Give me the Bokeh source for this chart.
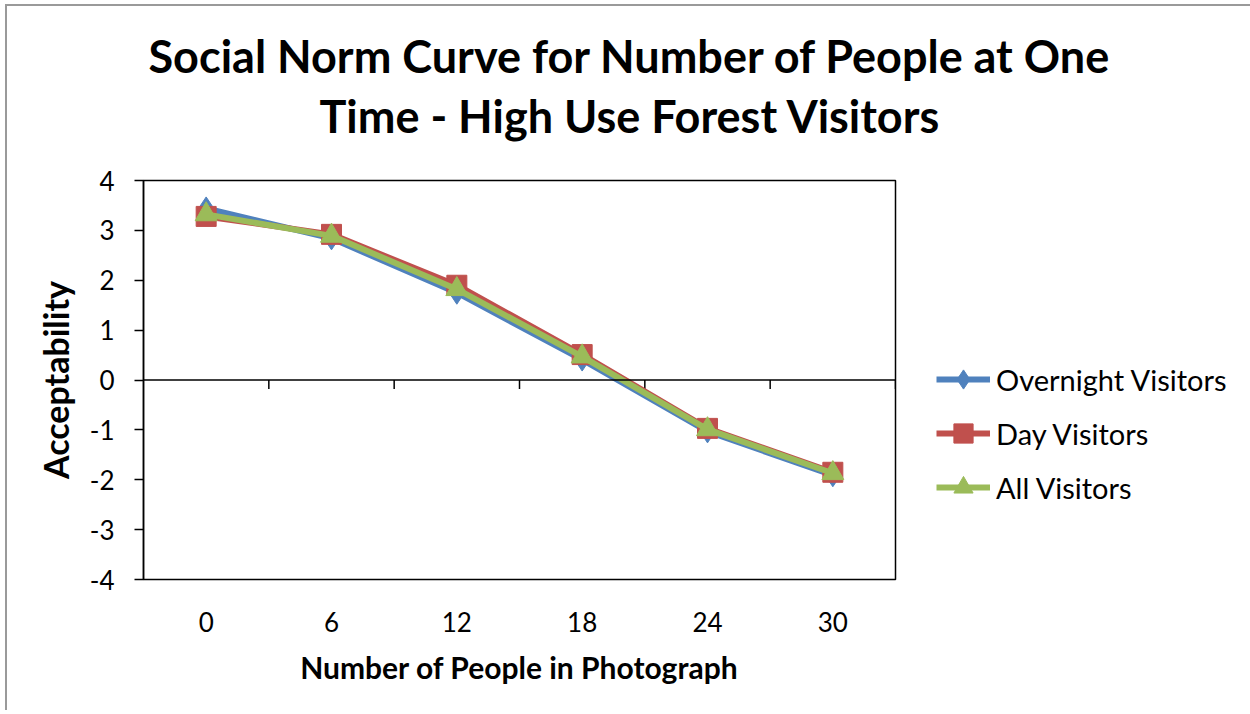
from bokeh.plotting import figure
from bokeh.models import (Legend, LegendItem, Span, Title, FixedTicker, Range1d)
from bokeh.embed import file_html
from bokeh.resources import INLINE

categories = ["0", "6", "12", "18", "24", "30"]
overnight = [3.44, 2.84, 1.75, 0.41, -1.03, -1.91]
day = [3.28, 2.92, 1.90, 0.51, -0.97, -1.85]
all_visitors = [3.32, 2.89, 1.82, 0.47, -0.99, -1.87]
y_ticks = [-4, -3, -2, -1, 0, 1, 2, 3, 4]
series_names = ["Overnight Visitors", "Day Visitors", "All Visitors"]
title_lines = ["Social Norm Curve for Number of People at One",
               "Time - High Use Forest Visitors"]

FONT = "Lato"
W, H = 1240, 704
FL, FT, FW, FH = 136, 174, 752, 399

p = figure(width=W, height=H, output_backend="svg", toolbar_location=None,
           x_range=Range1d(0, len(categories)), y_range=Range1d(-4, 4),
           min_border_left=FL, min_border_top=FT,
           min_border_right=W - FL - FW, min_border_bottom=H - FT - FH,
           frame_width=FW, frame_height=FH)
p.xgrid.visible = False
p.ygrid.visible = False
p.outline_line_color = "black"
p.outline_line_width = 1.5
p.background_fill_color = "white"
p.border_fill_color = "white"
p.styles = {"margin-left": "5px", "margin-top": "4px",
            "border-top": "2px solid #9a9a9a", "border-left": "2px solid #9a9a9a"}

xs = [i + 0.5 for i in range(len(categories))]

# x axis (labels at bottom)
xa = p.xaxis[0]
xa.ticker = FixedTicker(ticks=xs)
xa.major_label_overrides = {x: c for x, c in zip(xs, categories)}
xa.axis_line_color = None
xa.major_tick_line_color = None
xa.minor_tick_line_color = None
xa.major_label_standoff = 26
xa.major_label_text_font = FONT
xa.major_label_text_font_size = "26px"
xa.major_label_text_color = "black"
xa.axis_label = "Number of People in Photograph"
xa.axis_label_text_font = FONT
xa.axis_label_text_font_style = "bold"
xa.axis_label_text_font_size = "30px"
xa.axis_label_standoff = 14
xa.axis_label_text_color = "black"

# y axis
ya = p.yaxis[0]
ya.ticker = FixedTicker(ticks=y_ticks)
ya.major_label_overrides = {t: str(t) for t in y_ticks}
ya.axis_line_color = "black"
ya.axis_line_width = 1.5
ya.major_tick_out = 9
ya.major_tick_in = 0
ya.major_tick_line_width = 1.5
ya.minor_tick_line_color = None
ya.major_label_standoff = 20
ya.major_label_text_font = FONT
ya.major_label_text_font_size = "26px"
ya.major_label_text_color = "black"
ya.axis_label = "Acceptability"
ya.axis_label_text_font = FONT
ya.axis_label_text_font_style = "bold"
ya.axis_label_text_font_size = "34px"
ya.axis_label_standoff = 11
ya.axis_label_text_color = "black"

# horizontal axis line at y = 0 with boundary tick marks
p.add_layout(Span(location=0, dimension="width", line_color="black", line_width=1.5))
tick_len = 9 * (8 / FH)
bx = list(range(1, len(categories) + 1))
p.segment(x0=bx, y0=[0] * len(bx), x1=bx, y1=[-tick_len] * len(bx),
          line_color="black", line_width=1.5)

colors = ["#4F81BD", "#C0504D", "#9BBB59"]
markers = ["diamond", "square", "triangle"]
sizes = [23, 20, 22]
items = []
for name, vals, c, m, s in zip(series_names, [overnight, day, all_visitors], colors, markers, sizes):
    lr = p.line(xs, vals, line_color=c, line_width=6)
    sr = p.scatter(xs, vals, marker=m, size=s, fill_color=c, line_color=c)
    items.append(LegendItem(label=name, renderers=[lr, sr]))

legend = Legend(items=items, location=(41, 68), glyph_width=54, glyph_height=48,
                label_height=48, spacing=6, padding=0, margin=0, label_standoff=6,
                label_text_font=FONT, label_text_font_size="29px",
                label_text_color="black", border_line_color=None,
                background_fill_alpha=0)
p.add_layout(legend, "right")

# Title (two lines, nearest-to-plot added first)
offsets = [5, 176]
standoffs = [-68, 76]
for t, off, so in reversed(list(zip(title_lines, offsets, standoffs))):
    p.add_layout(Title(text=t, align="left", offset=off, text_font=FONT,
                       text_font_style="bold", text_font_size="45px",
                       text_color="black", standoff=so), "above")

open("out.html", "w").write(file_html(p, INLINE))
